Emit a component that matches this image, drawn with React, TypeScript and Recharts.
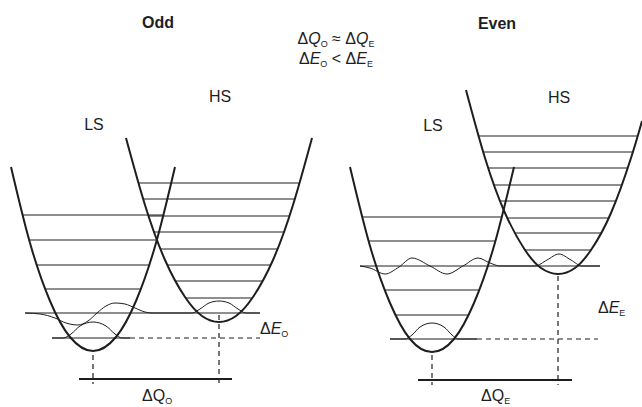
import { ComposedChart, Line, XAxis, YAxis, ReferenceLine } from "recharts"

// potential wells, points (x = configuration coordinate, y = energy, screen-down)
const oddLS = [
  { x: 11, y: 167 }, { x: 30, y: 243 }, { x: 50, y: 301 }, { x: 70, y: 337 }, { x: 93, y: 351 },
  { x: 116, y: 337 }, { x: 136, y: 301 }, { x: 156, y: 243 }, { x: 175, y: 167 },
]
const oddHS = [
  { x: 126, y: 138 }, { x: 145, y: 205 }, { x: 165, y: 260 }, { x: 185, y: 297 }, { x: 202, y: 316 },
  { x: 219, y: 322 }, { x: 236, y: 316 }, { x: 253, y: 297 }, { x: 273, y: 260 }, { x: 293, y: 205 },
  { x: 312, y: 138 },
]
const evenLS = [
  { x: 350, y: 167 }, { x: 370, y: 246 }, { x: 390, y: 303 }, { x: 410, y: 339 }, { x: 432, y: 352 },
  { x: 454, y: 339 }, { x: 474, y: 303 }, { x: 494, y: 246 }, { x: 514, y: 167 },
]
const evenHS = [
  { x: 466, y: 90 }, { x: 485, y: 158 }, { x: 505, y: 213 }, { x: 525, y: 250 }, { x: 541, y: 268 },
  { x: 558, y: 274 }, { x: 575, y: 268 }, { x: 591, y: 250 }, { x: 611, y: 213 }, { x: 631, y: 158 },
  { x: 642, y: 121 },
]

// vibrational levels [energy, left turning point, right turning point]
const oddLSLevels = [
  [289, 45, 141], [265, 37, 149], [240, 29, 157], [215, 22, 164],
]
const oddHSLevels = [
  [298, 185, 253], [281, 175, 263], [265, 167, 271], [249, 160, 278],
  [232, 154, 284], [216, 148, 290], [199, 143, 295], [183, 138, 300],
]
const evenLSLevels = [
  [315, 395, 469], [290, 385, 480], [241, 369, 496], [217, 362, 502],
]
const evenHSLevels = [
  [250, 525, 591], [233, 515, 601], [218, 507, 609], [201, 500, 616],
  [185, 494, 622], [168, 488, 628], [152, 483, 633], [136, 478, 638],
]

// levels shared by both wells (LS excited = HS ground)
const crossLevels = [
  [313, 25, 260], [266, 360, 600],
]
// LS ground levels [energy, solid from, solid to, dashed to]
const groundLevels = [
  [338, 52, 130, 260], [339, 390, 477, 598],
]
// vertical markers at the well minima [x, top, bottom]
const minimaMarks = [
  [93, 355, 384], [219, 315, 384], [432, 355, 385], [558, 276, 385],
]
// ΔQ bars [y, from, to]
const deltaQBars = [
  [379, 79, 232], [380, 418, 572],
]

// wavefunctions
const oddWave = [
  { x: 25, y: 313 }, { x: 40, y: 314 }, { x: 55, y: 318 }, { x: 66, y: 323 }, { x: 78, y: 325 },
  { x: 88, y: 321 }, { x: 97, y: 313 }, { x: 106, y: 306 }, { x: 115, y: 303 }, { x: 125, y: 304 },
  { x: 135, y: 308 }, { x: 145, y: 312 }, { x: 152, y: 313 }, { x: 192, y: 313 }, { x: 200, y: 309 },
  { x: 209, y: 303 }, { x: 219, y: 301 }, { x: 229, y: 303 }, { x: 238, y: 309 }, { x: 246, y: 313 },
  { x: 260, y: 313 },
]
const oddGroundWave = [
  { x: 52, y: 338 }, { x: 63, y: 338 }, { x: 71, y: 334 }, { x: 80, y: 326 }, { x: 93, y: 322 },
  { x: 106, y: 326 }, { x: 115, y: 334 }, { x: 122, y: 338 }, { x: 130, y: 338 },
]
const evenWave = [
  { x: 360, y: 266 }, { x: 370, y: 268 }, { x: 385, y: 274 }, { x: 399, y: 267 }, { x: 412, y: 258 },
  { x: 430, y: 266 }, { x: 447, y: 274 }, { x: 463, y: 266 }, { x: 478, y: 258 }, { x: 490, y: 263 },
  { x: 500, y: 266 }, { x: 535, y: 266 }, { x: 547, y: 260 }, { x: 559, y: 254 }, { x: 571, y: 260 },
  { x: 582, y: 266 }, { x: 600, y: 266 },
]
const evenGroundWave = [
  { x: 390, y: 339 }, { x: 405, y: 339 }, { x: 412, y: 335 }, { x: 420, y: 327 }, { x: 432, y: 323 },
  { x: 444, y: 327 }, { x: 452, y: 335 }, { x: 458, y: 339 }, { x: 477, y: 339 },
]

const ink = "#1e1e1e"
const font = "'Liberation Sans', Arial, sans-serif"

function seg(key: string, x1: number, y1: number, x2: number, y2: number, width = 1, dash?: string) {
  return (
    <ReferenceLine
      key={key}
      segment={[{ x: x1, y: y1 }, { x: x2, y: y2 }]}
      stroke={ink}
      strokeWidth={width}
      strokeDasharray={dash}
      ifOverflow="visible"
    />
  )
}

function curve(key: string, data: { x: number; y: number }[], width: number, type: "monotone" | "natural") {
  return (
    <Line
      key={key}
      data={data}
      dataKey="y"
      type={type}
      stroke={ink}
      strokeWidth={width}
      dot={false}
      activeDot={false}
      isAnimationActive={false}
    />
  )
}

export default function App() {
  const levels = [...oddLSLevels, ...oddHSLevels, ...evenLSLevels, ...evenHSLevels, ...crossLevels]
  return (
    <div style={{ position: "absolute", left: 0, top: 0, width: 642, height: 407, background: "#fff" }}>
      <ComposedChart width={642} height={407} margin={{ top: 0, right: 0, bottom: 0, left: 0 }}>
        <XAxis type="number" dataKey="x" domain={[0, 642]} hide />
        <YAxis type="number" domain={[0, 407]} reversed hide />

        {levels.map(([y, a, b], i) => seg(`lv${i}`, a, y, b, y, 1))}
        {groundLevels.map(([y, a, b, c], i) => [
          seg(`gs${i}`, a, y, b, y, 1),
          seg(`gd${i}`, b, y, c, y, 1.2, "5 4"),
        ])}
        {minimaMarks.map(([x, a, b], i) => seg(`mm${i}`, x, a, x, b, 1.2, "5 4"))}
        {deltaQBars.map(([y, a, b], i) => seg(`dq${i}`, a, y, b, y, 2))}

        {curve("w1", oddWave, 1, "monotone")}
        {curve("w2", oddGroundWave, 1, "monotone")}
        {curve("w3", evenWave, 1, "monotone")}
        {curve("w4", evenGroundWave, 1, "monotone")}

        {curve("p1", oddLS, 2, "natural")}
        {curve("p2", oddHS, 2, "natural")}
        {curve("p3", evenLS, 2, "natural")}
        {curve("p4", evenHS, 2, "natural")}

        <g fontFamily={font} fill={ink}>
          <text x={158} y={28} fontSize={16} fontWeight="bold" textAnchor="middle">Odd</text>
          <text x={497} y={29} fontSize={16} fontWeight="bold" textAnchor="middle">Even</text>
          <text x={94} y={130} fontSize={16} textAnchor="middle">LS</text>
          <text x={220} y={102} fontSize={16} textAnchor="middle">HS</text>
          <text x={433} y={131} fontSize={16} textAnchor="middle">LS</text>
          <text x={559} y={103} fontSize={16} textAnchor="middle">HS</text>

          <text x={336} y={44} fontSize={16} textAnchor="middle">
            Δ<tspan fontStyle="italic">Q</tspan>
            <tspan fontSize={9} dy={3}>O</tspan>
            <tspan dy={-3}> ≈ Δ</tspan>
            <tspan fontStyle="italic">Q</tspan>
            <tspan fontSize={9} dy={3}>E</tspan>
          </text>
          <text x={336} y={64} fontSize={16} textAnchor="middle">
            Δ<tspan fontStyle="italic">E</tspan>
            <tspan fontSize={9} dy={3}>O</tspan>
            <tspan dy={-3}> &lt; Δ</tspan>
            <tspan fontStyle="italic">E</tspan>
            <tspan fontSize={9} dy={3}>E</tspan>
          </text>

          <text x={260} y={334} fontSize={16}>
            Δ<tspan fontStyle="italic">E</tspan>
            <tspan fontSize={9} dy={3}>O</tspan>
          </text>
          <text x={598} y={313} fontSize={16}>
            Δ<tspan fontStyle="italic">E</tspan>
            <tspan fontSize={9} dy={3}>E</tspan>
          </text>
          <text x={142} y={401} fontSize={16}>
            ΔQ<tspan fontSize={9} dy={3}>O</tspan>
          </text>
          <text x={481} y={401} fontSize={16}>
            ΔQ<tspan fontSize={9} dy={3}>E</tspan>
          </text>
        </g>
      </ComposedChart>
    </div>
  )
}
